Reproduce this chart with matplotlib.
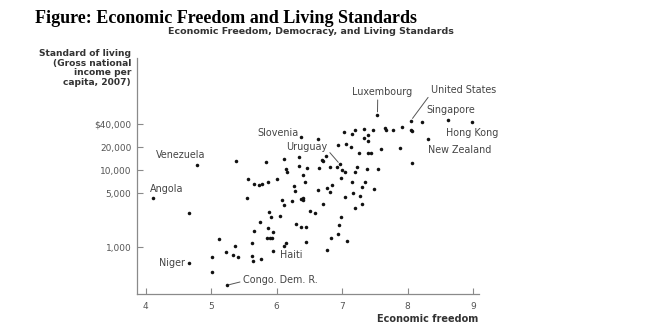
import matplotlib.pyplot as plt
from matplotlib.ticker import FixedLocator, NullLocator

# economic freedom score / gross national income per capita (2007)
freedom = [4.66, 5.01, 5.01, 5.12, 5.23, 5.34, 5.41, 5.36, 5.38, 5.84, 5.57, 5.65, 5.73, 5.78,
           5.87, 6.00, 5.55, 5.62, 5.63, 5.64, 5.76, 5.65, 5.75, 5.87, 5.94, 5.86, 5.90, 5.93,
           5.95, 5.89, 5.92, 6.05, 6.14, 6.12, 6.14, 6.16, 6.09, 6.12, 6.24, 6.35, 6.63, 6.35,
           6.41, 6.46, 6.65, 6.71, 6.44, 6.26, 6.28, 6.64, 6.71, 6.37, 6.40, 6.41, 6.51, 6.58,
           6.30, 6.38, 6.45, 6.45, 6.77, 6.83, 6.94, 7.08, 6.95, 6.98, 7.05, 7.17, 7.27, 7.30,
           7.19, 6.77, 6.82, 6.85, 6.98, 7.15, 7.31, 7.49, 7.35, 6.82, 6.92, 7.00, 7.04, 7.23,
           7.20, 7.38, 7.55, 6.70, 6.76, 6.94, 7.06, 7.14, 7.26, 7.39, 7.44, 7.03, 7.15, 7.19,
           7.34, 7.39, 7.34, 7.40, 7.47, 7.65, 7.67, 7.78, 7.92, 8.05, 8.07, 8.22, 8.06, 7.89,
           7.60]
income = [2800, 740, 470, 1290, 860, 790, 750, 1030, 13000, 12700, 7620, 6620, 6360, 6720,
          7030, 7800, 4390, 1120, 770, 660, 690, 1630, 2120, 1760, 1580, 1320, 1320, 1320,
          900, 2890, 2480, 2540, 1120, 14000, 10400, 9540, 4130, 3550, 3980, 14900, 25700, 11400,
          8600, 10600, 10800, 13200, 7030, 6180, 5400, 5450, 3690, 4260, 4380, 4130, 2920, 2740,
          1980, 1840, 1840, 1150, 910, 1320, 1470, 1200, 1950, 2480, 4520, 5100, 4650, 3600,
          3180, 5910, 5260, 6420, 7850, 7030, 6000, 5650, 7100, 10900, 11100, 10100, 9490, 11000,
          9420, 10400, 10300, 13500, 15200, 21400, 21800, 20200, 16600, 16800, 16800, 31000, 29400, 33600,
          34600, 28800, 25900, 24200, 33700, 35200, 33900, 33700, 36000, 33400, 32400, 42100, 12400, 19300,
          18800]

# labelled countries
names = ['Venezuela', 'Angola', 'Niger', 'Congo. Dem. R.', 'Haiti', 'Slovenia', 'Uruguay',
         'Luxembourg', 'United States', 'Singapore', 'Hong Kong', 'New Zealand']
named_freedom = [4.78, 4.11, 4.67, 5.24, 6.11, 6.38, 6.97, 7.54, 8.05, 8.62, 8.98, 8.31]
named_income = [11700, 4310, 620, 318, 1040, 26800, 11900, 52900, 44200, 45500, 42100, 25300]

y_ticks = [1000, 5000, 10000, 20000, 40000]
y_ticklabels = ['1,000', '5,000', '10,000', '20,000', '$40,000']
x_ticks = [4, 5, 6, 7, 8, 9]

# label placement: offset in pixels, alignment, leader line start (None = no line)
label_style = {
    'Venezuela': ((-40.5, 10), 'left', None),
    'Angola': ((-3, 9), 'left', None),
    'Niger': ((-4.5, 0), 'right', None),
    'Congo. Dem. R.': ((16, 5), 'left', (0, 0.4)),
    'Haiti': ((-4, -9), 'left', None),
    'Slovenia': ((-2.5, 4.6), 'right', None),
    'Uruguay': ((-13, 17), 'right', (1, 0.3)),
    'Luxembourg': ((4.5, 22.5), 'center', (0.43, 0)),
    'United States': ((20, 31), 'left', (0, 0.1)),
    'Singapore': ((-22, 9.7), 'left', None),
    'Hong Kong': ((-26, -10.4), 'left', None),
    'New Zealand': ((0.3, -10.7), 'left', None),
}

fig = plt.figure(figsize=(6.5, 3.26), dpi=100)
ax = fig.add_axes([137 / 650, 32 / 326, 342 / 650, 236 / 326])

dot = '#111111'
ax.scatter(freedom, income, s=6.5, color=dot, linewidths=0, zorder=3)
ax.scatter(named_freedom, named_income, s=6.5, color=dot, linewidths=0, zorder=3)

ax.set_yscale('log')
ax.set_xlim(3.87, 9.09)
ax.set_ylim(245, 289000)
ax.yaxis.set_major_locator(FixedLocator(y_ticks))
ax.yaxis.set_minor_locator(NullLocator())
ax.set_yticklabels(y_ticklabels)
ax.set_xticks(x_ticks)

for side in ['top', 'right']:
    ax.spines[side].set_visible(False)
for side in ['left', 'bottom']:
    ax.spines[side].set_color('#8a8a8a')
    ax.spines[side].set_linewidth(0.9)
ax.tick_params(axis='both', direction='in', length=4, width=0.8, color='#8a8a8a',
               labelsize=6.5, labelcolor='#555555')
ax.tick_params(axis='y', pad=4)
ax.tick_params(axis='x', pad=6)

for name, fx, inc in zip(names, named_freedom, named_income):
    off, ha, rel = label_style[name]
    kw = {}
    if rel is not None:
        kw['arrowprops'] = dict(arrowstyle='-', color='#555555', lw=0.7,
                                shrinkA=0, shrinkB=2, relpos=rel)
    ax.annotate(name, xy=(fx, inc), xytext=off, textcoords='offset pixels',
                ha=ha, va='center', fontsize=6.9, color='#444444', **kw)

fig.text(0.054, 0.942, 'Figure: Economic Freedom and Living Standards',
         family='Liberation Serif', weight='bold', fontsize=13, ha='left', va='center')
fig.text(311 / 650, 1 - 32 / 326, 'Economic Freedom, Democracy, and Living Standards',
         fontsize=6.8, weight='bold', color='#333333', ha='center', va='center')
fig.text(131 / 650, 1 - 68 / 326, 'Standard of living\n(Gross national\nincome per\ncapita, 2007)',
         fontsize=6.6, weight='bold', color='#333333', ha='right', va='center',
         multialignment='right', linespacing=1.1)
fig.text(478 / 650, 1 - 319.5 / 326, 'Economic freedom', fontsize=7.0, weight='bold',
         color='#333333', ha='right', va='center')

fig.savefig('out.png', dpi=100)
